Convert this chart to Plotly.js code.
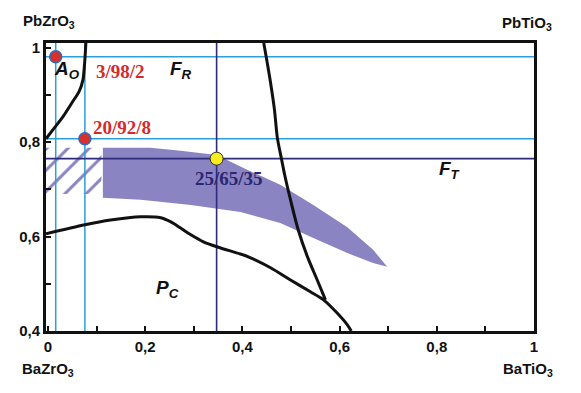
<!DOCTYPE html>
<html>
<head>
<meta charset="utf-8">
<script src="https://cdn.plot.ly/plotly-3.0.1.min.js"></script>
<style>html,body{margin:0;padding:0;background:#fff;}#chart{width:581px;height:393px;}</style>
</head>
<body>
<div id="chart"></div>
<script>
// ---- data ----
const xTickVals = [0, 0.1, 0.2, 0.3, 0.4, 0.5, 0.6, 0.7, 0.8, 0.9, 1];
const xTickText = ['0', '', '0,2', '', '0,4', '', '0,6', '', '0,8', '', '1'];
const yTickVals = [0.4, 0.5, 0.6, 0.7, 0.8, 0.9, 1];
const yTickText = ['0,4', '', '0,6', '', '0,8', '', '1'];

// reference lines
const lightHLines = [0.981, 0.807];
const darkHLine = 0.765;
const lightVLines = [0.016, 0.076];
const darkVLine = 0.347;

// boundary curves
const curveAoX = [0.078, 0.076, 0.072, 0.064, 0.051, 0.031, 0.010, -0.004];
const curveAoY = [1.010, 0.975, 0.932, 0.907, 0.886, 0.854, 0.826, 0.807];

const curvePcX = [-0.004, 0.076, 0.129, 0.191, 0.232, 0.253, 0.273, 0.294, 0.320, 0.349, 0.396, 0.417, 0.458, 0.499, 0.540, 0.567, 0.595, 0.616, 0.624];
const curvePcY = [0.606, 0.625, 0.635, 0.642, 0.640, 0.631, 0.618, 0.604, 0.589, 0.578, 0.563, 0.555, 0.534, 0.508, 0.483, 0.466, 0.438, 0.413, 0.400];

const curveFtX = [0.444, 0.450, 0.458, 0.466, 0.472, 0.480, 0.487, 0.499, 0.515, 0.534, 0.554, 0.571];
const curveFtY = [1.010, 0.975, 0.926, 0.869, 0.809, 0.767, 0.731, 0.678, 0.614, 0.557, 0.508, 0.466];

// shaded band (top edge left->right, bottom edge right->left)
const bandX = [0.113, 0.211, 0.273, 0.347, 0.411, 0.478, 0.546, 0.616, 0.669, 0.698,
               0.669, 0.616, 0.546, 0.478, 0.396, 0.294, 0.191, 0.113];
const bandY = [0.788, 0.788, 0.782, 0.773, 0.741, 0.710, 0.667, 0.620, 0.572, 0.536,
               0.544, 0.565, 0.597, 0.629, 0.652, 0.667, 0.678, 0.682];

// hatched region
const hatchX = [-0.004, 0.110, 0.110, -0.004];
const hatchY = [0.788, 0.788, 0.690, 0.690];

// compositions
const redPtsX = [0.016, 0.076];
const redPtsY = [0.981, 0.807];
const redLabels = ['3/98/2', '20/92/8'];
const redLabelX = [0.150, 0.152];
const redLabelY = [0.949, 0.830];
const yellowPtX = [0.347];
const yellowPtY = [0.765];
const yellowLabel = '25/65/35';
const yellowLabelX = 0.372;
const yellowLabelY = 0.724;

// phase labels
const phaseText = ['A<sub>O</sub>', 'F<sub>R</sub>', 'F<sub>T</sub>', 'P<sub>C</sub>'];
const phaseX = [0.039, 0.273, 0.828, 0.246];
const phaseY = [0.953, 0.953, 0.741, 0.489];

// corner compounds
const cornerText = ['PbZrO<sub>3</sub>', 'PbTiO<sub>3</sub>', 'BaZrO<sub>3</sub>', 'BaTiO<sub>3</sub>'];
const cornerX = [0.006, 0.986, 0.004, 0.988];
const cornerY = [1.073, 1.069, -0.132, -0.132];

// ---- styling ----
const XMIN = -0.004, XMAX = 1.0, YMIN = 0.4, YMAX = 1.01;
const LIGHT = '#2a9fd8';
const DARK = '#2e2a7c';
const BAND = '#8a84c2';

const traces = [];
traces.push({x: bandX, y: bandY, mode: 'lines', fill: 'toself', fillcolor: BAND,
  line: {width: 0, color: BAND}, hoverinfo: 'skip', showlegend: false});
traces.push({x: hatchX, y: hatchY, mode: 'lines', fill: 'toself', fillcolor: 'rgba(0,0,0,0)',
  fillpattern: {shape: '/', fgcolor: BAND, bgcolor: 'rgba(255,255,255,0)', size: 15, solidity: 0.2},
  line: {width: 0, color: BAND}, hoverinfo: 'skip', showlegend: false});

lightHLines.forEach(v => traces.push({x: [XMIN, XMAX], y: [v, v], mode: 'lines',
  line: {color: LIGHT, width: 1.5}, showlegend: false, hoverinfo: 'skip'}));
lightVLines.forEach(v => traces.push({x: [v, v], y: [YMIN, YMAX], mode: 'lines',
  line: {color: LIGHT, width: 1.5}, showlegend: false, hoverinfo: 'skip'}));
traces.push({x: [XMIN, XMAX], y: [darkHLine, darkHLine], mode: 'lines',
  line: {color: DARK, width: 1.6}, showlegend: false, hoverinfo: 'skip'});
traces.push({x: [darkVLine, darkVLine], y: [YMIN, YMAX], mode: 'lines',
  line: {color: DARK, width: 1.6}, showlegend: false, hoverinfo: 'skip'});

[[curveAoX, curveAoY], [curvePcX, curvePcY], [curveFtX, curveFtY]].forEach(c =>
  traces.push({x: c[0], y: c[1], mode: 'lines', line: {color: '#111', width: 3, shape: 'spline', smoothing: 0.8},
    showlegend: false, hoverinfo: 'skip'}));

traces.push({x: redPtsX, y: redPtsY, mode: 'markers',
  marker: {size: 12, color: '#d8302c', line: {color: '#2a6cc0', width: 1.5}}, showlegend: false});
traces.push({x: yellowPtX, y: yellowPtY, mode: 'markers',
  marker: {size: 13, color: '#f6ee1e', line: {color: '#333', width: 1}}, showlegend: false});

const annotations = [];
redLabels.forEach((t, i) => annotations.push({x: redLabelX[i], y: redLabelY[i], xref: 'x', yref: 'y',
  xanchor: 'center', yanchor: 'middle',
  text: '<b>' + t + '</b>', showarrow: false,
  font: {family: 'Liberation Serif, Times New Roman, serif', size: 19, color: '#d42a2a'}}));
annotations.push({x: yellowLabelX, y: yellowLabelY, xref: 'x', yref: 'y', text: '<b>' + yellowLabel + '</b>',
  xanchor: 'center', yanchor: 'middle',
  showarrow: false, font: {family: 'Liberation Serif, Times New Roman, serif', size: 19, color: '#2a2670'}});
phaseText.forEach((t, i) => annotations.push({x: phaseX[i], y: phaseY[i], xref: 'x', yref: 'y',
  xanchor: 'center', yanchor: 'middle',
  text: '<b><i>' + t + '</i></b>', showarrow: false,
  font: {family: 'Liberation Sans, Arial, sans-serif', size: 19, color: '#111'}}));
cornerText.forEach((t, i) => annotations.push({x: cornerX[i], y: cornerY[i], xref: 'paper', yref: 'paper',
  xanchor: 'center', yanchor: 'middle',
  text: '<b>' + t + '</b>', showarrow: false,
  font: {family: 'Liberation Sans, Arial, sans-serif', size: 15, color: '#111'}}));

const axisCommon = {showgrid: false, zeroline: false, showline: true, linecolor: '#111', linewidth: 3,
  mirror: true, ticks: 'inside', ticklen: 5, tickwidth: 2, tickcolor: '#111',
  tickfont: {family: 'Liberation Sans, Arial, sans-serif', size: 15, color: '#111', weight: 'bold'}};

const layout = {
  width: 581, height: 393,
  margin: {l: 46, r: 47, t: 43, b: 62},
  paper_bgcolor: '#fff', plot_bgcolor: '#fff',
  showlegend: false,
  xaxis: Object.assign({}, axisCommon, {range: [XMIN, XMAX], tickmode: 'array', tickvals: xTickVals, ticktext: xTickText}),
  yaxis: Object.assign({}, axisCommon, {range: [YMIN, YMAX], tickmode: 'array', tickvals: yTickVals, ticktext: yTickText}),
  annotations: annotations
};

Plotly.newPlot('chart', traces, layout, {displayModeBar: false, staticPlot: true});
</script>
</body>
</html>
